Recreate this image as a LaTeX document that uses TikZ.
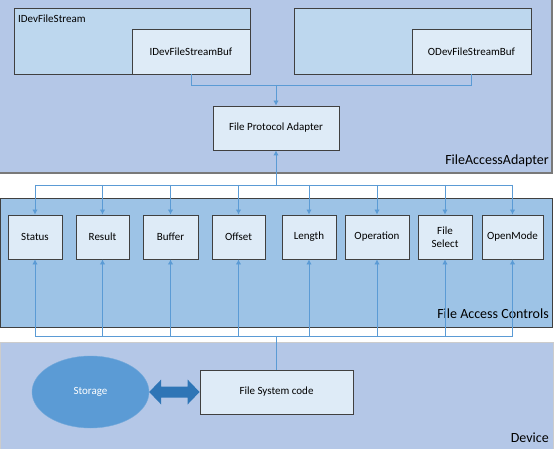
\documentclass[tikz,border=0pt]{standalone}
\usepackage{fontspec}
\setmainfont{Carlito}
\usetikzlibrary{arrows.meta, positioning, calc, shapes.geometric}
\definecolor{paneblue}{RGB}{180,199,231}
\definecolor{ctrlblue}{RGB}{157,195,230}
\definecolor{boxfill}{RGB}{222,235,247}
\definecolor{outerfill}{RGB}{189,215,238}
\definecolor{linkblue}{RGB}{91,155,213}
\definecolor{darkarrow}{RGB}{46,117,182}
\definecolor{edgegray}{RGB}{64,64,64}
\begin{document}
\begin{tikzpicture}[x=1pt, y=-1pt,
    box/.style={draw=edgegray, fill=boxfill, line width=0.9pt, font=\fontsize{11}{13.5}\selectfont, align=center, inner sep=0pt},
    ctrl/.style={box, minimum height=44pt},
    feed/.style={draw=linkblue, line width=0.9pt},
    tip/.style={feed, -{Latex[length=5pt,width=5.5pt]}},
    paneltitle/.style={font=\fontsize{14}{16}\selectfont, anchor=base east, inner sep=0pt}]
    \useasboundingbox (0,0) rectangle (554,449);
    \fill[white] (0,0) rectangle (554,449);
    \fill[paneblue] (0,0) rectangle (552,173);
    \draw[edgegray!70, line width=1.2pt] (0,173) -- (552,173) -- (552,0);
    \draw[edgegray, line width=1pt, fill=ctrlblue] (0,199) rectangle (552,327);
    \draw[gray!40, line width=0.6pt, fill=paneblue] (0,342) rectangle (553,449);
    \node[paneltitle] (adaptertitle) at (549,165) {FileAccessAdapter};
    \node[paneltitle] (controlstitle) at (549,318) {File Access Controls};
    \node[paneltitle] (devicetitle) at (549,442) {Device};
    \node[box, fill=outerfill, minimum width=236pt, minimum height=66pt] (istream) at (132,41) {};
    \node[anchor=west, inner sep=0pt, font=\fontsize{11}{13}\selectfont] (istreamname) at (18,19) {IDevFileStream};
    \node[box, minimum width=118pt, minimum height=45pt] (ibuf) at (191,51.5) {IDevFileStreamBuf};
    \node[box, fill=outerfill, minimum width=237pt, minimum height=66pt] (ostream) at (412.5,41) {};
    \node[box, minimum width=119pt, minimum height=45pt] (obuf) at (471.5,51.5) {ODevFileStreamBuf};
    \node[box, minimum width=126pt, minimum height=44pt] (fpa) at (276,128) {File Protocol Adapter};
    \coordinate (hub) at (276,85);
    \draw[feed] (ibuf.south) |- (hub);
    \draw[feed] (obuf.south) |- (hub);
    \draw[tip] (hub) -- (fpa.north);
    \foreach \n/\t/\cx/\w in {status/Status/35/54, result/Result/102.5/53, buffer/Buffer/170.5/55, offset/Offset/238.5/53,
        length/Length/309/54, operation/Operation/377/64, fileselect/{File\\Select}/445/54, openmode/OpenMode/512.5/61}
        \node[ctrl, minimum width=\w pt] (\n) at (\cx,237) {\t};
    \coordinate (upbus) at (0,185);
    \coordinate (downbus) at (0,336);
    \draw[feed] (status.north |- upbus) -- (openmode.north |- upbus);
    \draw[feed] (status.south |- downbus) -- (openmode.south |- downbus);
    \draw[tip] (fpa.south |- upbus) -- (fpa.south);
    \foreach \n in {status, result, buffer, offset, length, operation, fileselect, openmode} {
        \draw[tip] (\n.north |- upbus) -- (\n.north);
        \draw[tip] (\n.south |- downbus) -- (\n.south);
    }
    \node[box, minimum width=153pt, minimum height=44pt] (fsc) at (276.5,392) {File System code};
    \draw[feed] (fsc.north |- downbus) -- (fsc.north);
    \node[ellipse, draw=linkblue!85!white, fill=linkblue, minimum width=117pt, minimum height=72pt, inner sep=0pt,
        text=white, font=\fontsize{11}{13}\selectfont] (storage) at (90.5,392) {Storage};
    \path (storage.east) coordinate (la) (fsc.west) coordinate (ra);
    \fill[darkarrow] (la) -- ++(12,-12.5) -- ++(0,7) -- ($(ra)+(-12,-5.5)$) -- ++(0,-7) -- (ra)
        -- ++(-12,12.5) -- ++(0,-7) -- ($(la)+(12,5.5)$) -- ++(0,7) -- cycle;
\end{tikzpicture}
\end{document}
